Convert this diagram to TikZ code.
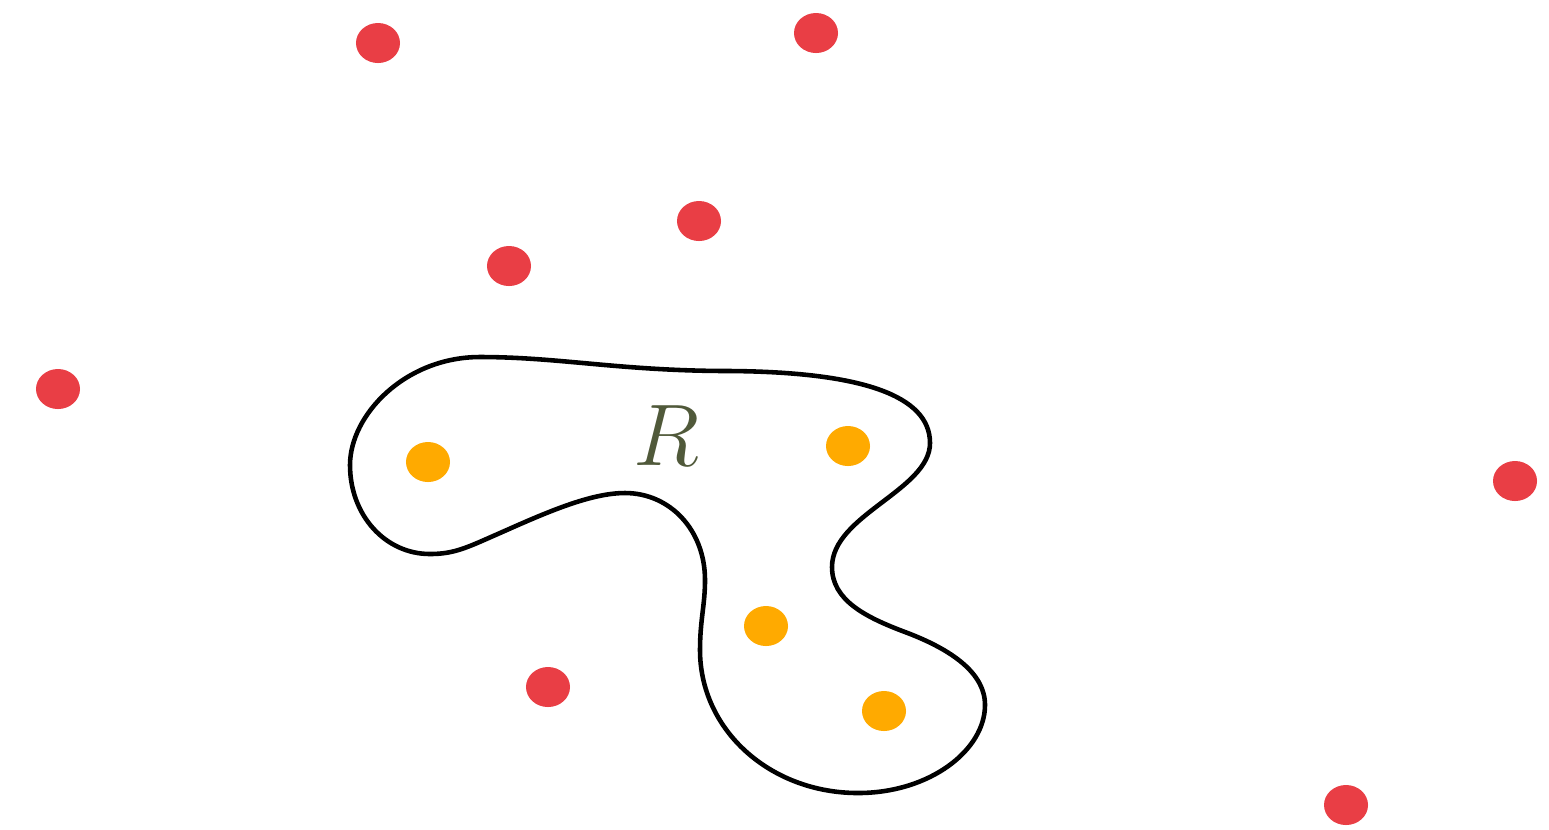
\documentclass[tikz,border=0pt]{standalone}
\usetikzlibrary{shapes.geometric}
\begin{document}
\begin{tikzpicture}[x=0.01cm,y=-0.01cm,
  dot/.style={draw=none,inner sep=0pt,minimum width=0.44cm,minimum height=0.40cm,ellipse},
  outline/.style={draw=black,line width=1.3pt}]
\definecolor{dotred}{HTML}{E93E45}
\definecolor{dotorange}{HTML}{FFAA00}
\definecolor{labelolive}{HTML}{50593A}
\useasboundingbox (0,0) rectangle (1549,829);
% red points
\node[dot,fill=dotred] (r1) at (378,43) {};
\node[dot,fill=dotred] (r2) at (816,33) {};
\node[dot,fill=dotred] (r3) at (699,221) {};
\node[dot,fill=dotred] (r4) at (509,266) {};
\node[dot,fill=dotred] (r5) at (58,389) {};
\node[dot,fill=dotred] (r6) at (1515,481) {};
\node[dot,fill=dotred] (r7) at (548,687) {};
\node[dot,fill=dotred] (r8) at (1346,805) {};
% orange points
\node[dot,fill=dotorange] (o1) at (428,462) {};
\node[dot,fill=dotorange] (o2) at (848,446) {};
\node[dot,fill=dotorange] (o3) at (766,626) {};
\node[dot,fill=dotorange] (o4) at (884,711) {};
% region
\draw[outline]
 (480,357) .. controls (560,357) and (620,371) .. (730,371)
 .. controls (860,372) and (930,395) .. (930,443)
 .. controls (930,490) and (832,515) .. (832,567)
 .. controls (832,600) and (865,617) .. (905,632)
 .. controls (945,647) and (985,670) .. (985,705)
 .. controls (985,750) and (930,793) .. (858,793)
 .. controls (770,793) and (700,730) .. (700,650)
 .. controls (700,620) and (705,605) .. (705,580)
 .. controls (705,530) and (670,493) .. (625,493)
 .. controls (590,493) and (545,513) .. (500,533)
 .. controls (468,547) and (455,554) .. (430,554)
 .. controls (385,554) and (350,515) .. (350,465)
 .. controls (350,415) and (405,357) .. (480,357) -- cycle;
\node[text=labelolive,font=\fontsize{28}{31}\selectfont] (lab) at (666,436) {$R$};
\end{tikzpicture}
\end{document}
